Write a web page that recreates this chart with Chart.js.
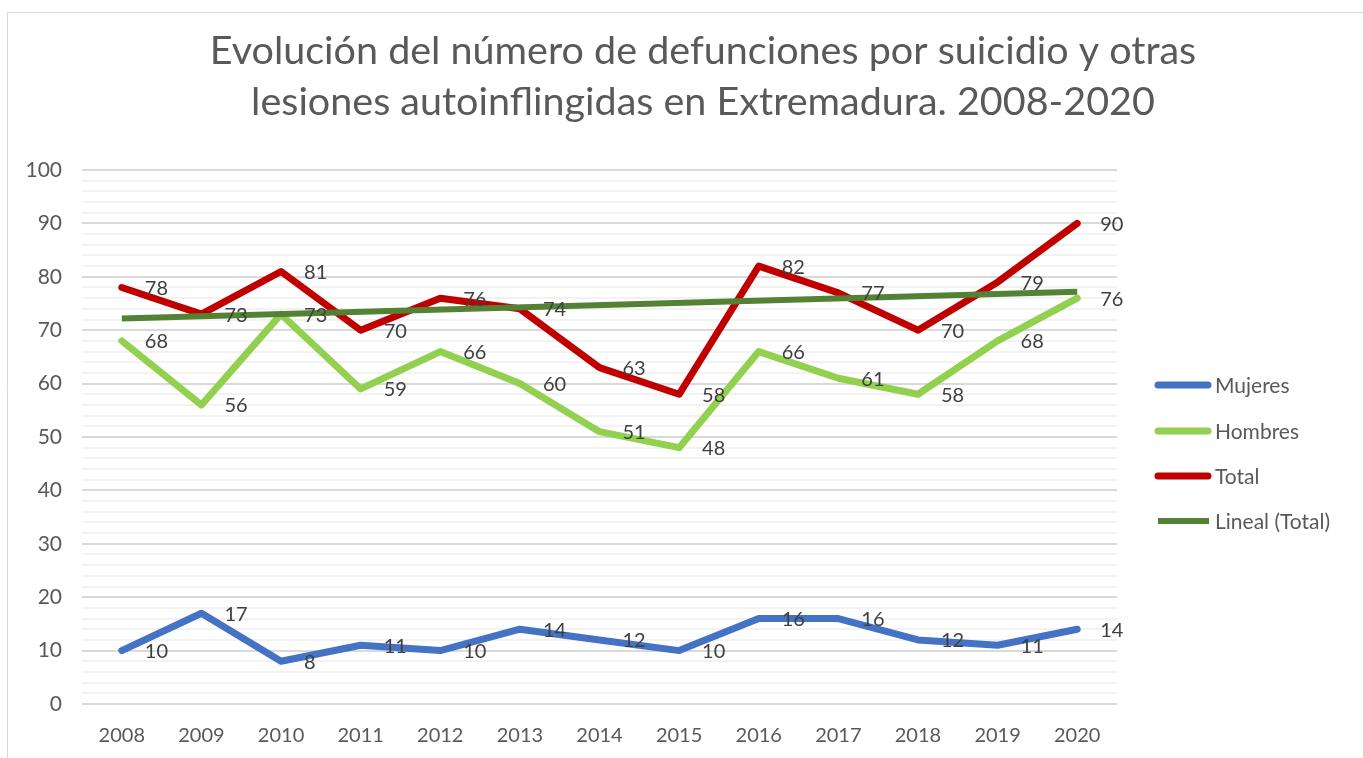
<!DOCTYPE html>
<html>
<head>
<meta charset="utf-8">
<script src="https://cdn.jsdelivr.net/npm/chart.js@4"></script>
<style>
  html, body { margin: 0; padding: 0; background: #fff; }
  #wrap { width: 1363px; height: 758px; }
</style>
</head>
<body>
<div id="wrap"><canvas id="myChart" width="1363" height="758"></canvas></div>
<script>
// datos
var years = ['2008', '2009', '2010', '2011', '2012', '2013', '2014', '2015', '2016', '2017', '2018', '2019', '2020'];
var mujeres = [10, 17, 8, 11, 10, 14, 12, 10, 16, 16, 12, 11, 14];
var hombres = [68, 56, 73, 59, 66, 60, 51, 48, 66, 61, 58, 68, 76];
var total = [78, 73, 81, 70, 76, 74, 63, 58, 82, 77, 70, 79, 90];
// tendencia lineal (extremos)
var lineal = [72.2, null, null, null, null, null, null, null, null, null, null, null, 77.2];
var titleLines = ['Evolución del número de defunciones por suicidio y otras', 'lesiones autoinflingidas en Extremadura. 2008-2020'];
var FONT = 'Lato, "Open Sans", sans-serif';

// etiquetas de datos, titulo, leyenda y marco
var decoPlugin = {
    id: 'deco',
    beforeDraw: function (chart) {
        var c = chart.ctx;
        c.save();
        c.strokeStyle = '#d9d9d9';
        c.lineWidth = 1;
        c.beginPath();
        c.moveTo(7.5, 758);
        c.lineTo(7.5, 12.5);
        c.lineTo(1363, 12.5);
        c.stroke();
        c.restore();
    },
    afterDatasetsDraw: function (chart) {
        var c = chart.ctx;
        c.save();
        c.font = '20px ' + FONT;
        c.fillStyle = '#404040';
        c.textAlign = 'left';
        c.textBaseline = 'middle';
        chart.data.datasets.forEach(function (ds, i) {
            if (!ds.showLabels) return;
            var meta = chart.getDatasetMeta(i);
            meta.data.forEach(function (pt, j) {
                c.fillText(String(ds.data[j]), pt.x + 23, pt.y + 1);
            });
        });
        c.restore();
    },
    afterDraw: function (chart) {
        var c = chart.ctx;
        c.save();
        // titulo
        c.fillStyle = '#595959';
        c.font = '39.5px ' + FONT;
        c.textAlign = 'center';
        c.textBaseline = 'alphabetic';
        c.fillText(titleLines[0], 703, 64);
        c.fillText(titleLines[1], 703, 115);
        // leyenda
        var ys = [385, 431, 476, 521];
        c.font = '21px ' + FONT;
        c.textAlign = 'left';
        c.textBaseline = 'middle';
        chart.data.datasets.forEach(function (ds, i) {
            var y = ys[i];
            c.strokeStyle = ds.borderColor;
            c.lineWidth = ds.borderWidth;
            c.lineCap = ds.borderCapStyle;
            c.beginPath();
            c.moveTo(1158, y);
            c.lineTo(ds.borderCapStyle === 'round' ? 1208 : 1209, y);
            c.stroke();
            c.fillStyle = '#595959';
            c.fillText(ds.label, 1215, y + 1);
        });
        c.restore();
    }
};

var ctx = document.getElementById('myChart').getContext('2d');
var myChart = new Chart(ctx, {
    type: 'line',
    data: {
        labels: years,
        datasets: [
            { label: 'Mujeres', data: mujeres, borderColor: '#4472C4', borderWidth: 7, order: 4, showLabels: true },
            { label: 'Hombres', data: hombres, borderColor: '#92D050', borderWidth: 7, order: 3, showLabels: true },
            { label: 'Total', data: total, borderColor: '#C00000', borderWidth: 7, order: 2, showLabels: true },
            { label: 'Lineal (Total)', data: lineal, borderColor: '#548235', borderWidth: 6, order: 1, spanGaps: true, borderCapStyle: 'butt', showLabels: false }
        ].map(function (d) {
            d.pointRadius = 0;
            d.pointHoverRadius = 0;
            d.fill = false;
            d.tension = 0;
            if (!d.borderCapStyle) d.borderCapStyle = 'round';
            d.borderJoinStyle = 'round';
            return d;
        })
    },
    options: {
        responsive: false,
        animation: false,
        events: [],
        layout: { padding: { left: 0, top: 170, right: 1363 - 1117, bottom: 0 } },
        plugins: {
            legend: { display: false },
            title: { display: false },
            tooltip: { enabled: false }
        },
        scales: {
            x: {
                offset: true,
                grid: { display: false, drawTicks: false },
                border: { display: false },
                ticks: { color: '#595959', font: { family: FONT, size: 20 }, padding: 20, maxRotation: 0 },
                afterFit: function (s) { s.height = 758 - 704; }
            },
            y: {
                min: 0,
                max: 100,
                grid: {
                    drawTicks: false,
                    lineWidth: 2,
                    color: function (c) { return c.tick && c.tick.value % 10 === 0 ? '#d9d9d9' : '#f2f2f2'; }
                },
                border: { display: false },
                ticks: {
                    stepSize: 2,
                    autoSkip: false,
                    maxTicksLimit: 100,
                    padding: 20,
                    color: '#595959',
                    font: { family: FONT, size: 21 },
                    callback: function (v) { return v % 10 === 0 ? v : ''; }
                },
                afterFit: function (s) { s.width = 82; }
            }
        }
    },
    plugins: [decoPlugin]
});
</script>
</body>
</html>
